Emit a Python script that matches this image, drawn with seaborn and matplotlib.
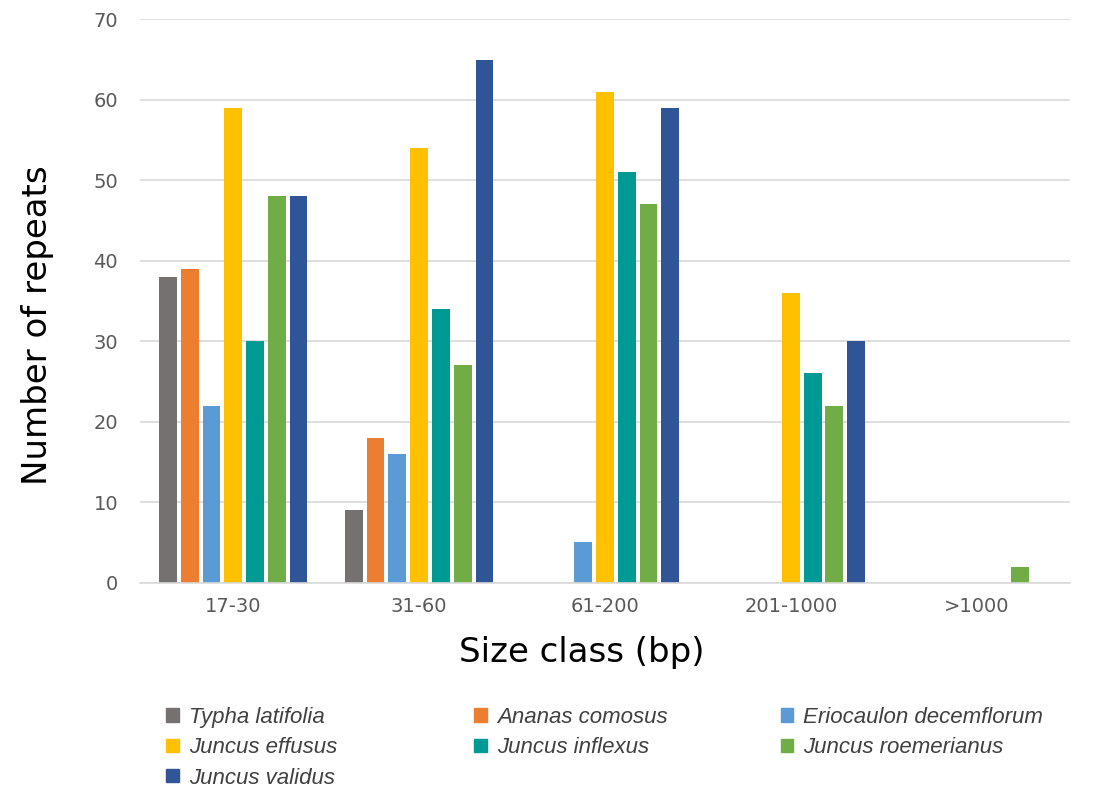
import matplotlib.pyplot as plt
import matplotlib.patches as mpatches
import seaborn as sns
import pandas as pd

# Data
size_classes = ["17-30", "31-60", "61-200", "201-1000", ">1000"]
species = ["Typha latifolia", "Ananas comosus", "Eriocaulon decemflorum",
           "Juncus effusus", "Juncus inflexus", "Juncus roemerianus", "Juncus validus"]
typha_latifolia = [38, 9, 0, 0, 0]
ananas_comosus = [39, 18, 0, 0, 0]
eriocaulon_decemflorum = [22, 16, 5, 0, 0]
juncus_effusus = [59, 54, 61, 36, 0]
juncus_inflexus = [30, 34, 51, 26, 0]
juncus_roemerianus = [48, 27, 47, 22, 2]
juncus_validus = [48, 65, 59, 30, 0]
colors = ["#767171", "#ED7D31", "#5B9BD5", "#FFC000", "#009A94", "#70AD47", "#2F5597"]

series = [typha_latifolia, ananas_comosus, eriocaulon_decemflorum, juncus_effusus,
          juncus_inflexus, juncus_roemerianus, juncus_validus]
rows = []
for sp, vals in zip(species, series):
    for sc, v in zip(size_classes, vals):
        rows.append({"Size class": sc, "Species": sp, "Repeats": v})
df = pd.DataFrame(rows)

sns.set_style("white")
fig = plt.figure(figsize=(10.96, 8.06), dpi=100)
ax = fig.add_axes([0.128, 0.277, 0.848, 0.699])

sns.barplot(data=df, x="Size class", y="Repeats", hue="Species", order=size_classes,
            hue_order=species, palette=colors, width=0.82, gap=0.18, linewidth=0,
            saturation=1, legend=False, ax=ax)

ax.set_ylim(0, 70)
ax.set_yticks(range(0, 71, 10))
ax.yaxis.grid(True, color="#D9D9D9", linewidth=1.2)
ax.set_axisbelow(True)
for s in ["left", "right", "top"]:
    ax.spines[s].set_visible(False)
ax.spines["bottom"].set_color("#D9D9D9")
ax.spines["bottom"].set_linewidth(1.2)
ax.tick_params(axis="both", length=0, labelsize=14, labelcolor="#595959")
ax.tick_params(axis="x", pad=10)
ax.tick_params(axis="y", pad=16)

ax.set_xlabel("Size class (bp)", fontsize=24.5, color="black")
ax.set_ylabel("Number of repeats", fontsize=24.5, color="black")
ax.xaxis.set_label_coords(0.475, -0.094)
ax.yaxis.set_label_coords(-0.093, 0.457)

# Legend in three fixed columns, row by row
handles = [mpatches.Patch(color=c, label=s) for c, s in zip(colors, species)]
col_x = [0.1437, 0.4248, 0.7047]
for j in range(3):
    hs = handles[j::3]
    leg = fig.legend(handles=hs, loc="upper left", bbox_to_anchor=(col_x[j], 0.134),
                     frameon=False, handlelength=0.55, handleheight=0.55, handletextpad=0.45,
                     labelspacing=0.42, borderaxespad=0,
                     prop={"style": "italic", "family": "Liberation Sans", "size": 16})
    for t in leg.get_texts():
        t.set_color("#404040")

fig.savefig("out.png", dpi=100)
